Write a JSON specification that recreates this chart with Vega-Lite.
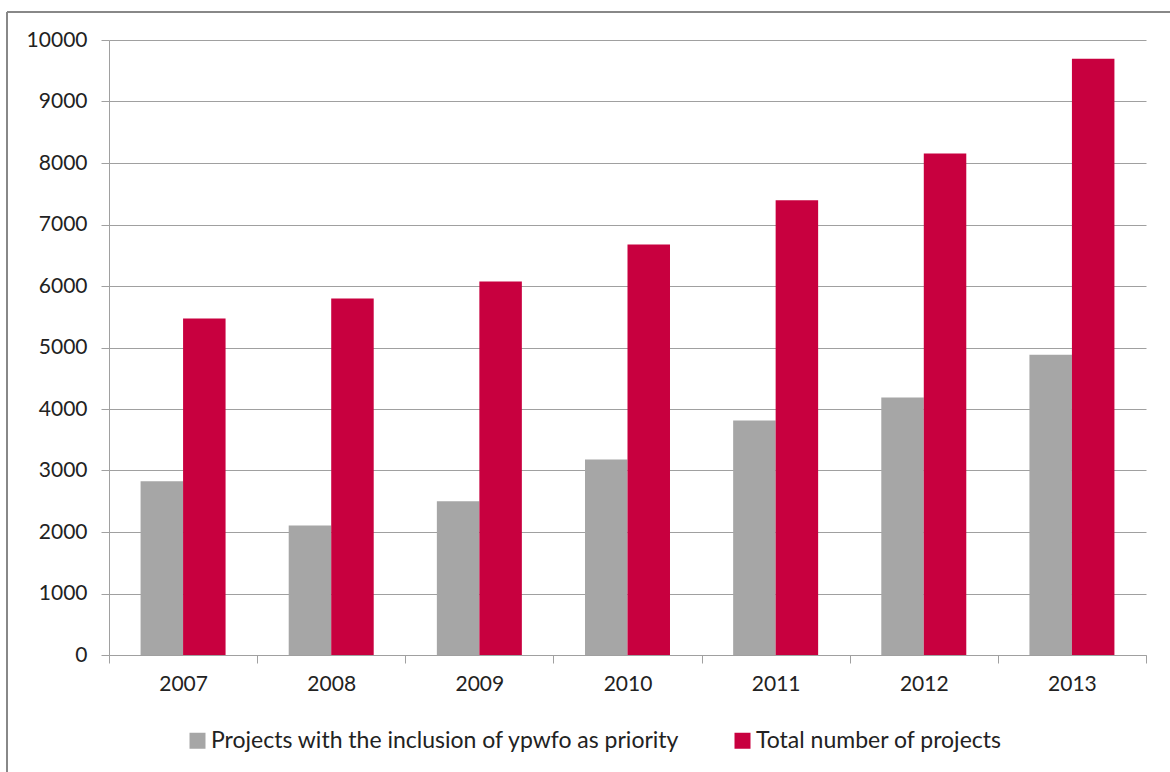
{
  "$schema": "https://vega.github.io/schema/vega-lite/v6.json",
  "width": 1163,
  "height": 760,
  "autosize": {"type": "none"},
  "padding": {"left": 7, "top": 12, "right": 0, "bottom": 0},
  "background": "white",
  "config": {
    "view": {"stroke": "#888888", "strokeWidth": 2, "strokeDash": [1163, 1923, 760, 0]},
    "font": "Lato",
    "axis": {
      "labelFont": "Lato",
      "labelFontSize": 21,
      "labelColor": "#222222",
      "domainColor": "#A0A0A0",
      "tickColor": "#A0A0A0",
      "gridColor": "#A0A0A0",
      "domainWidth": 1,
      "tickWidth": 1,
      "gridWidth": 1,
      "title": null
    },
    "legend": {"labelFont": "Lato", "labelFontSize": 23, "labelColor": "#222222"}
  },
  "data": {
    "values": [
      {"year": "2007", "series": "Projects with the inclusion of ypwfo as priority", "value": 2824},
      {"year": "2007", "series": "Total number of projects", "value": 5470},
      {"year": "2008", "series": "Projects with the inclusion of ypwfo as priority", "value": 2104},
      {"year": "2008", "series": "Total number of projects", "value": 5795},
      {"year": "2009", "series": "Projects with the inclusion of ypwfo as priority", "value": 2499},
      {"year": "2009", "series": "Total number of projects", "value": 6072},
      {"year": "2010", "series": "Projects with the inclusion of ypwfo as priority", "value": 3177},
      {"year": "2010", "series": "Total number of projects", "value": 6673},
      {"year": "2011", "series": "Projects with the inclusion of ypwfo as priority", "value": 3811},
      {"year": "2011", "series": "Total number of projects", "value": 7393},
      {"year": "2012", "series": "Projects with the inclusion of ypwfo as priority", "value": 4185},
      {"year": "2012", "series": "Total number of projects", "value": 8153},
      {"year": "2013", "series": "Projects with the inclusion of ypwfo as priority", "value": 4884},
      {"year": "2013", "series": "Total number of projects", "value": 9696}
    ]
  },
  "mark": {"type": "bar"},
  "encoding": {
    "x": {
      "field": "year",
      "type": "nominal",
      "scale": {"range": [102, 1139], "paddingInner": 0, "paddingOuter": 0},
      "axis": {
        "orient": "bottom",
        "offset": -117,
        "labelAngle": 0,
        "tickBand": "extent",
        "tickSize": 8,
        "labelPadding": 10,
        "grid": false
      }
    },
    "xOffset": {
      "field": "series",
      "type": "nominal",
      "sort": ["Projects with the inclusion of ypwfo as priority", "Total number of projects"],
      "scale": {"paddingInner": 0, "paddingOuter": 0.743}
    },
    "y": {
      "field": "value",
      "type": "quantitative",
      "scale": {"domain": [0, 10000], "range": [643, 28], "nice": false},
      "axis": {
        "orient": "left",
        "offset": -102,
        "values": [0, 1000, 2000, 3000, 4000, 5000, 6000, 7000, 8000, 9000, 10000],
        "format": "d",
        "tickSize": 8,
        "labelPadding": 14,
        "grid": true
      }
    },
    "color": {
      "field": "series",
      "type": "nominal",
      "scale": {
        "domain": ["Projects with the inclusion of ypwfo as priority", "Total number of projects"],
        "range": ["#A6A6A6", "#C8003F"]
      },
      "legend": {
        "orient": "none",
        "legendX": 179,
        "legendY": 717,
        "direction": "horizontal",
        "title": null,
        "symbolType": "square",
        "symbolSize": 256,
        "symbolStrokeWidth": 0,
        "labelOffset": 2,
        "labelLimit": 1000,
        "columnPadding": 51,
        "padding": 0
      }
    }
  }
}
